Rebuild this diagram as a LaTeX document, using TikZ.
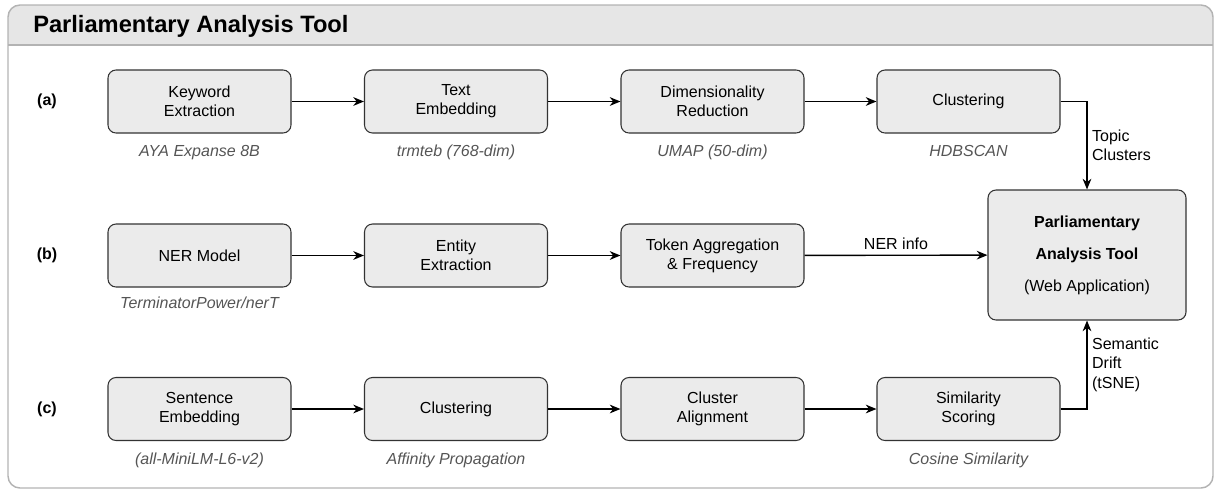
\documentclass[tikz,border=0pt]{standalone}
\usepackage{fontspec}
\setmainfont{Liberation Sans}
\usepackage{xcolor}
\usepackage{tikz}
\usetikzlibrary{arrows.meta}
\tikzset{>={Stealth[length=8pt,width=6.5pt,inset=2.5pt]}}
\definecolor{framegray}{HTML}{B3B3B3}
\definecolor{headgray}{HTML}{E6E6E6}
\definecolor{boxgray}{HTML}{EBEBEB}
\definecolor{infogray}{HTML}{555555}

\begin{document}
\begin{tikzpicture}[x=0.75pt,y=-0.75pt,
    stage/.style={draw=black!80, fill=boxgray, rounded corners=6pt, line width=0.8pt,
      minimum width=137.25pt, minimum height=47.25pt, align=center,
      font=\fontsize{12}{14.4}\selectfont},
    info/.style={text=infogray, anchor=base, font=\fontsize{12}{14.4}\selectfont\itshape},
    rowlab/.style={font=\fontsize{12}{14.4}\selectfont\bfseries},
    flow/.style={->, line width=1.05pt},
    flowlab/.style={align=left, font=\fontsize{12}{14.4}\selectfont}]

		\useasboundingbox (0,0) rectangle (1214,493);

		% The outer frame with its grey header band
		\begin{scope}
		  \clip [rounded corners=9pt] (8,5) rectangle (1213,488);
		  \fill [headgray] (8,5) rectangle (1213,45);
		\end{scope}
		\draw [framegray, line width=1.1pt] (8,45) -- (1213,45);
		\draw [framegray, line width=1.1pt, rounded corners=9pt] (8,5) rectangle (1213,488);
		\node [anchor=base west, inner sep=0pt, font=\fontsize{17.75}{20}\selectfont\bfseries] (title) at (33,32) {Parliamentary Analysis Tool};

		% Row labels
		\foreach \r/\y in {a/101.5, b/255.5, c/409} {
		  \node [rowlab] (lab-\r) at (47,\y) {(\r)};
		}

		% Row (a): topic clusters
		\foreach \i/\x/\txt in {
		  1/199.5/{Keyword\\Extraction},
		  2/456/{Text\\Embedding},
		  3/712.5/{Dimensionality\\Reduction},
		  4/968.5/{Clustering}} {
		  \node [stage] (a\i) at (\x,101.5) {\txt};
		}
		\node [info] (a1-info) at ([yshift=-17.25pt]a1.south) {AYA Expanse 8B};
		\node [info] (a2-info) at ([yshift=-17.25pt]a2.south) {trmteb (768-dim)};
		\node [info] (a3-info) at ([yshift=-17.25pt]a3.south) {UMAP (50-dim)};
		\node [info] (a4-info) at ([yshift=-17.25pt]a4.south) {HDBSCAN};

		% Row (b): named entities
		\foreach \i/\x/\txt in {
		  1/199.5/{NER Model},
		  2/456/{Entity\\Extraction},
		  3/712.5/{Token Aggregation\\\& Frequency}} {
		  \node [stage] (b\i) at (\x,255.5) {\txt};
		}
		\node [info] (b1-info) at ([yshift=-16pt]b1.south) {TerminatorPower/nerT};

		% Row (c): semantic drift
		\foreach \i/\x/\txt in {
		  1/199.5/{Sentence\\Embedding},
		  2/456/{Clustering},
		  3/712.5/{Cluster\\Alignment},
		  4/968.5/{Similarity\\Scoring}} {
		  \node [stage] (c\i) at (\x,409) {\txt};
		}
		\node [info] (c1-info) at ([yshift=-17.25pt]c1.south) {(all-MiniLM-L6-v2)};
		\node [info] (c2-info) at ([yshift=-17.25pt]c2.south) {Affinity Propagation};
		\node [info] (c4-info) at ([yshift=-17.25pt]c4.south) {Cosine Similarity};

		% The web application that collects everything
		\node [stage, minimum width=148.5pt, minimum height=97.5pt,
		  font=\fontsize{12}{24}\selectfont] (pat) at (1087,255)
		  {\textbf{Parliamentary}\\\textbf{Analysis Tool}\\(Web Application)};

		% Arrows inside each row
		\foreach \r in {a,c} {
		  \draw [flow] (\r1) -- (\r2);
		  \draw [flow] (\r2) -- (\r3);
		  \draw [flow] (\r3) -- (\r4);
		}
		\draw [flow] (b1) -- (b2);
		\draw [flow] (b2) -- (b3);

		% Arrows into the web application
		\draw [flow] (a4) -| (pat) node [pos=0.75, right, flowlab] {Topic\\Clusters};
		\draw [flow] (b3) -- (pat) node [midway, above, flowlab] {NER info};
		\draw [flow] (c4) -| (pat) node [pos=0.75, right, flowlab] {Semantic\\Drift\\(tSNE)};
	\end{tikzpicture}
\end{document}
